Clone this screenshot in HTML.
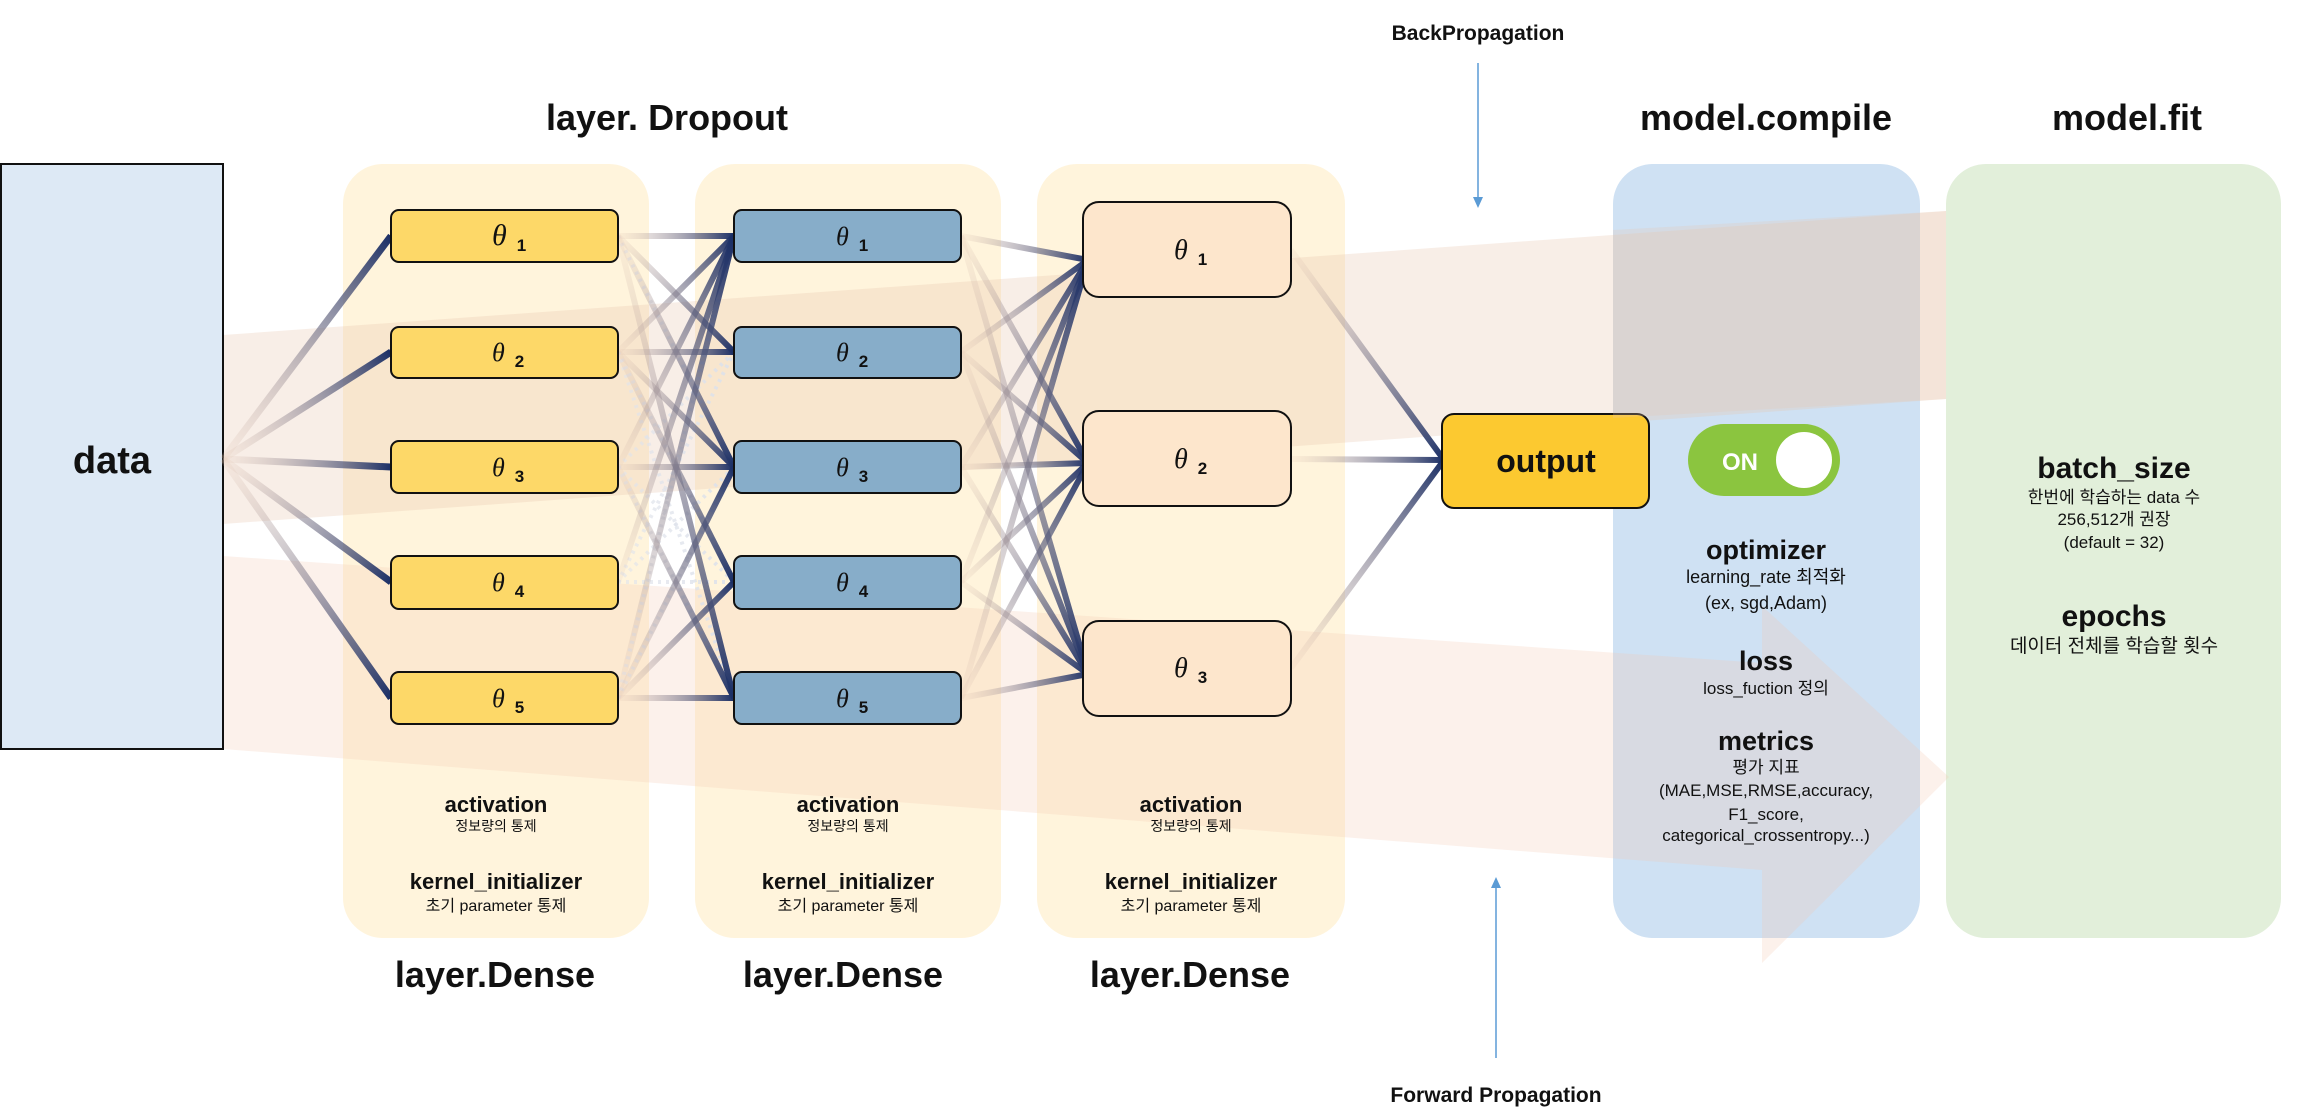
<!DOCTYPE html>
<html><head><meta charset="utf-8">
<style>
html,body{margin:0;padding:0;background:#fff;}
svg{display:block;}
text{font-family:"Liberation Sans","Noto Sans CJK KR",sans-serif;}
.b{font-weight:bold;}
</style></head>
<body>
<svg id="s" width="2308" height="1118" viewBox="0 0 2308 1118" xmlns="http://www.w3.org/2000/svg">
<defs id="d"></defs>
<!-- panels -->
<rect x="343" y="164" width="306" height="774" rx="40" fill="#fff4dc"/>
<rect x="695" y="164" width="306" height="774" rx="40" fill="#fff4dc"/>
<rect x="1037" y="164" width="308" height="774" rx="40" fill="#fff4dc"/>
<rect x="1613" y="164" width="307" height="774" rx="40" fill="#cfe1f3"/>
<rect x="1946" y="164" width="335" height="774" rx="40" fill="#e2efda"/>
<!-- translucent bands -->
<polygon points="223,335 1946,211 1946,399 223,524" fill="#e8c6b0" opacity="0.3"/>
<polygon points="223,556 1762,663 1762,606 1949,777 1762,963 1762,870 223,749" fill="#f3c9b0" opacity="0.25"/>
<!-- data -->
<rect x="1" y="164" width="222" height="585" fill="#dde9f5" stroke="#111" stroke-width="2"/>
<g id="lines"></g>
<!-- yellow nodes -->
<g fill="#fdd868" stroke="#111" stroke-width="2">
<rect x="391" y="210" width="227" height="52" rx="8"/>
<rect x="391" y="327" width="227" height="51" rx="8"/>
<rect x="391" y="441" width="227" height="52" rx="8"/>
<rect x="391" y="556" width="227" height="53" rx="8"/>
<rect x="391" y="672" width="227" height="52" rx="8"/>
</g>
<g fill="#87adc9" stroke="#111" stroke-width="2">
<rect x="734" y="210" width="227" height="52" rx="8"/>
<rect x="734" y="327" width="227" height="51" rx="8"/>
<rect x="734" y="441" width="227" height="52" rx="8"/>
<rect x="734" y="556" width="227" height="53" rx="8"/>
<rect x="734" y="672" width="227" height="52" rx="8"/>
</g>
<g fill="#fde6cc" stroke="#111" stroke-width="2">
<rect x="1083" y="202" width="208" height="95" rx="16"/>
<rect x="1083" y="411" width="208" height="95" rx="16"/>
<rect x="1083" y="621" width="208" height="95" rx="16"/>
</g>
<rect x="1442" y="414" width="207" height="94" rx="12" fill="#fcc930" stroke="#111" stroke-width="2"/>
<!-- overlay faint band tint over compile panel -->
<polygon points="1613,230 1946,211 1946,399 1613,418" fill="#e8c6b0" opacity="0.25"/>
<!-- toggle -->
<rect x="1688" y="424" width="152" height="72" rx="36" fill="#8bc53f"/>
<circle cx="1804" cy="460" r="28" fill="#fff"/>
<text x="1740" y="470" font-size="24" class="b" fill="#fff" text-anchor="middle">ON</text>
<!-- theta labels -->
<g id="th"></g>
<!-- titles -->
<g class="b" fill="#111" text-anchor="middle">
<text x="667" y="130" font-size="36">layer. Dropout</text>
<text x="1766" y="130" font-size="36">model.compile</text>
<text x="2127" y="130" font-size="36">model.fit</text>
<text x="495" y="987" font-size="36">layer.Dense</text>
<text x="843" y="987" font-size="36">layer.Dense</text>
<text x="1190" y="987" font-size="36">layer.Dense</text>
<text x="112" y="473" font-size="38">data</text>
<text x="1546" y="472" font-size="32">output</text>
<text x="1478" y="40" font-size="21">BackPropagation</text>
<text x="1496" y="1102" font-size="21">Forward Propagation</text>
</g>
<g fill="#111" text-anchor="middle" id="pt"></g>
<!-- arrows -->
<line x1="1478" y1="63" x2="1478" y2="198" stroke="#5b9bd5" stroke-width="1.5"/>
<polygon points="1473,197 1483,197 1478,208" fill="#5b9bd5"/>
<line x1="1496" y1="1058" x2="1496" y2="887" stroke="#5b9bd5" stroke-width="1.5"/>
<polygon points="1491,888 1501,888 1496,877" fill="#5b9bd5"/>
<!-- compile text -->
<g fill="#111" text-anchor="middle">
<text x="1766" y="559" font-size="27" class="b">optimizer</text>
<text x="1766" y="583" font-size="18">learning_rate 최적화</text>
<text x="1766" y="609" font-size="18">(ex, sgd,Adam)</text>
<text x="1766" y="670" font-size="27" class="b">loss</text>
<text x="1766" y="694" font-size="17">loss_fuction 정의</text>
<text x="1766" y="750" font-size="27" class="b">metrics</text>
<text x="1766" y="773" font-size="17">평가 지표</text>
<text x="1766" y="796" font-size="17">(MAE,MSE,RMSE,accuracy,</text>
<text x="1766" y="820" font-size="17">F1_score,</text>
<text x="1766" y="841" font-size="17">categorical_crossentropy...)</text>
<text x="2114" y="478" font-size="30" class="b">batch_size</text>
<text x="2114" y="503" font-size="17">한번에 학습하는 data 수</text>
<text x="2114" y="525" font-size="17">256,512개 권장</text>
<text x="2114" y="548" font-size="17">(default  =  32)</text>
<text x="2114" y="626" font-size="30" class="b">epochs</text>
<text x="2114" y="652" font-size="19">데이터 전체를 학습할 횟수</text>
</g>
</svg>
<script>
var NS="http://www.w3.org/2000/svg";
var d=document.getElementById('d'),L=document.getElementById('lines'),T=document.getElementById('th'),P=document.getElementById('pt');
var n=0;
function ln(x1,y1,x2,y2,w,dash){
  var id='g'+(n++);
  var g=document.createElementNS(NS,'linearGradient');
  g.setAttribute('id',id);g.setAttribute('gradientUnits','userSpaceOnUse');
  g.setAttribute('x1',x1);g.setAttribute('y1',y1);g.setAttribute('x2',x2);g.setAttribute('y2',y2);
  var c1=dash?'rgba(225,228,235,0.6)':'rgba(230,200,180,0.15)';
  var c2=dash?'rgba(220,225,235,0.9)':'#1b2f66';
  g.innerHTML='<stop offset="0" stop-color="'+c1+'"/><stop offset="1" stop-color="'+c2+'"/>';
  d.appendChild(g);
  var l=document.createElementNS(NS,'line');
  l.setAttribute('x1',x1);l.setAttribute('y1',y1);l.setAttribute('x2',x2);l.setAttribute('y2',y2);
  l.setAttribute('stroke','url(#'+id+')');l.setAttribute('stroke-width',w||7);
  if(dash){l.setAttribute('stroke-dasharray','3 5');l.setAttribute('stroke-width',4);}
  L.appendChild(l);
}
var ys=[236,352,467,582,698];
ys.forEach(function(y){ln(223,459,391,y,7);});
[[0,2],[1,3],[2,4],[3,1],[3,2],[3,3],[4,2],[2,1],[4,0],[1,4],[2,3]].forEach(function(p){ln(618,ys[p[0]],734,ys[p[1]],4,true);});
[[0,0],[0,1],[0,2],[1,0],[1,1],[1,2],[2,0],[2,2],[2,4],[3,0],[4,0],[4,2],[4,3],[4,4],[0,4],[1,3]].forEach(function(p){ln(618,ys[p[0]],734,ys[p[1]],6);});
var cs=[260,463,674];
ys.forEach(function(y){cs.forEach(function(c){ln(961,y,1088,c,6);});});
[250,459,668].forEach(function(y){ln(1291,y,1444,460,6);});
function th(cx,y,num,sz){
  var t=document.createElementNS(NS,'text');
  t.setAttribute('x',cx);t.setAttribute('y',y);t.setAttribute('fill','#111');
  t.innerHTML='<tspan font-family="Liberation Serif,serif" font-style="italic" font-size="'+sz+'">θ</tspan><tspan dx="10" dy="6" font-size="17" font-weight="bold">'+num+'</tspan>';
  T.appendChild(t);
}
ys.forEach(function(y,i){th(492,y+9,i+1,i==0?30:26);th(836,y+9,i+1,26);});
[250,459,668].forEach(function(y,i){th(1174,y+9,i+1,28);});
[496,848,1191].forEach(function(x){
  P.innerHTML+='<text x="'+x+'" y="812" font-size="22" font-weight="bold">activation</text>'+
  '<text x="'+x+'" y="831" font-size="14">정보량의 통제</text>'+
  '<text x="'+x+'" y="889" font-size="22" font-weight="bold">kernel_initializer</text>'+
  '<text x="'+x+'" y="911" font-size="16">초기 parameter 통제</text>';
});
</script>
</body></html>
